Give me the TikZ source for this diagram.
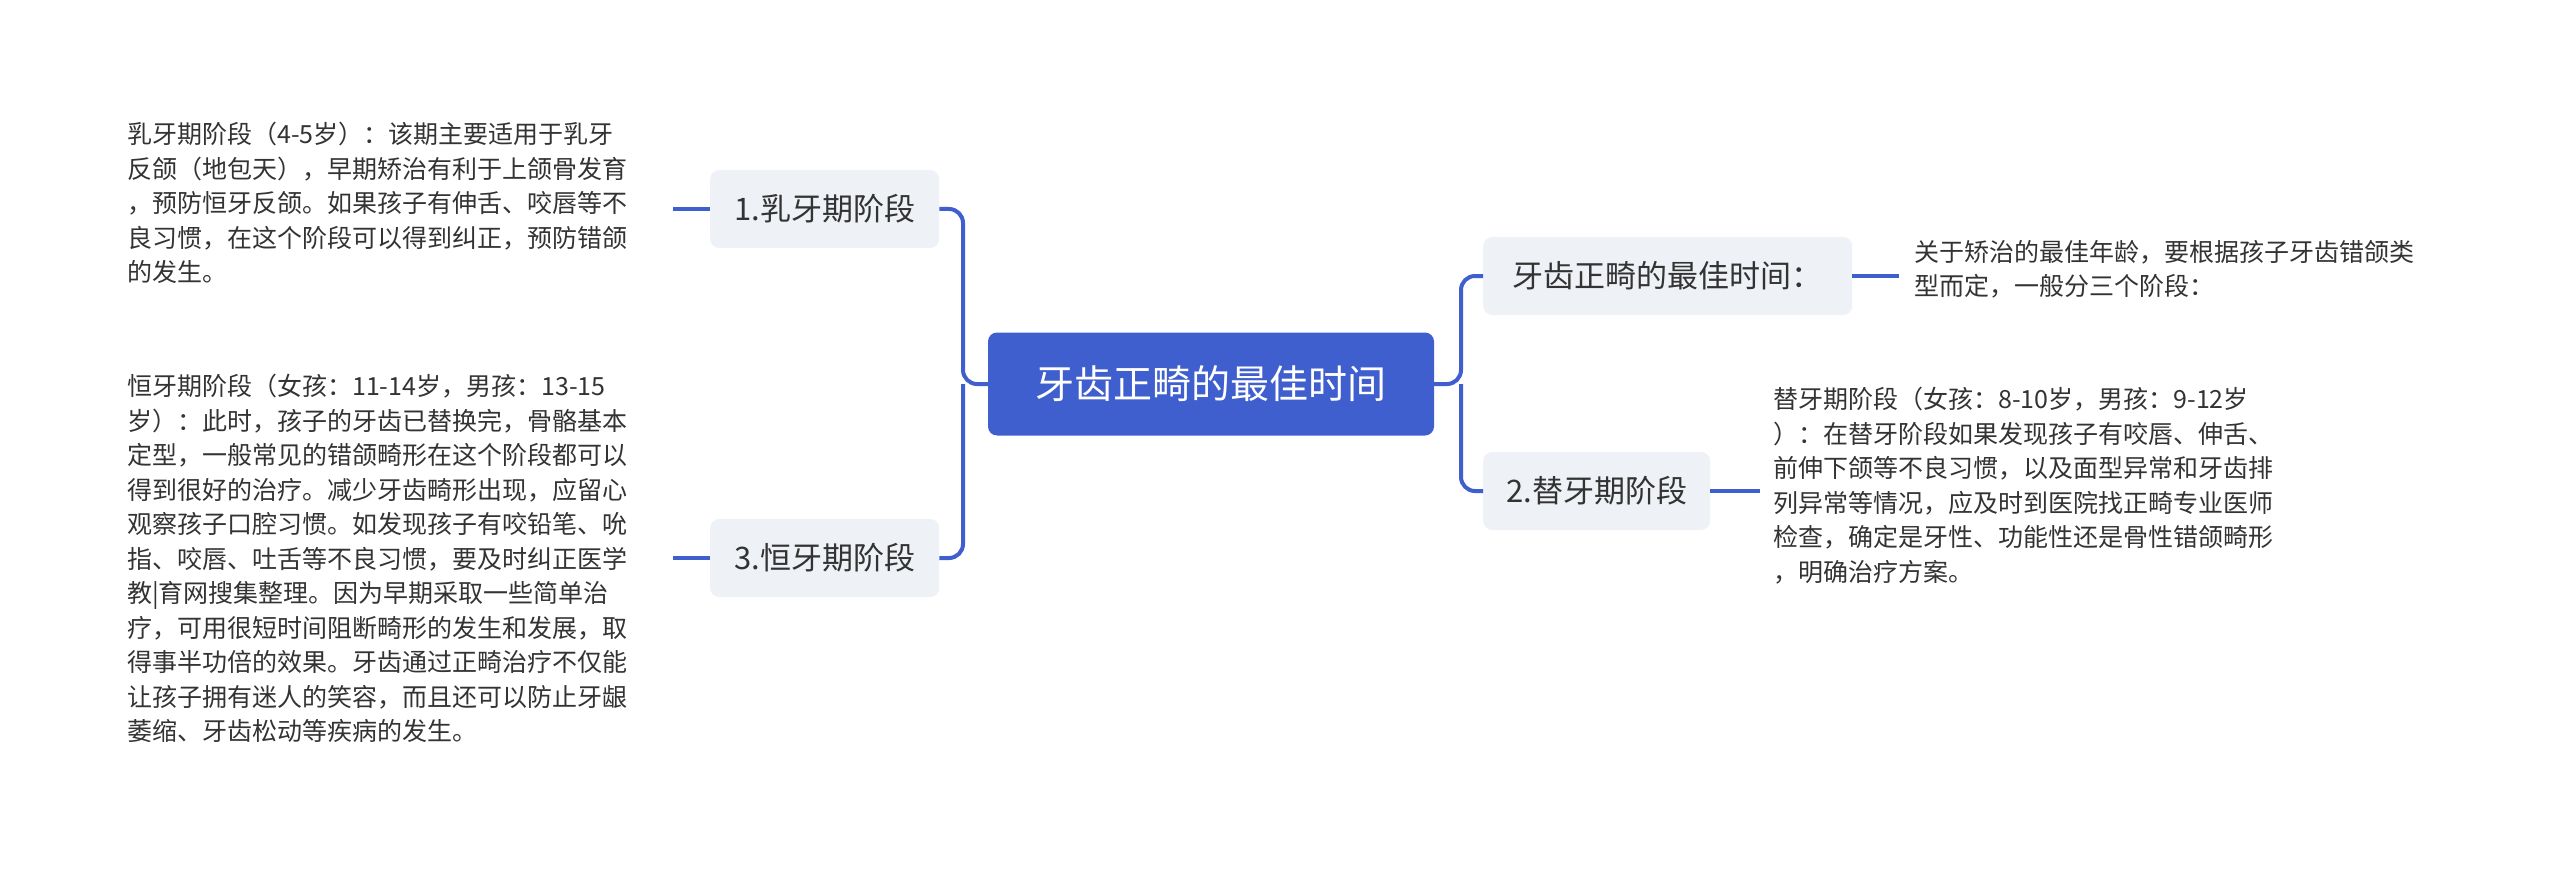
\documentclass[tikz,border=0pt]{standalone}
\usepackage{fontspec}
\setmainfont{Noto Sans CJK SC}
\definecolor{lineblue}{HTML}{3F5FCF}
\definecolor{boxgray}{HTML}{EEF1F5}
\definecolor{txt}{HTML}{333333}
\begin{document}
\begin{tikzpicture}[x=1pt,y=-1pt,
  sub/.style={fill=boxgray,rounded corners=9pt,minimum height=78pt,inner xsep=16pt,text=txt,font=\fontsize{31}{36}\selectfont,anchor=west},
  desc/.style={anchor=north west,align=left,inner sep=0pt,text=txt,font=\fontsize{25}{34.5}\selectfont},
  conn/.style={draw=lineblue,line width=4pt,rounded corners=14pt}]
\useasboundingbox (0,0) rectangle (2560,869);
\node[fill=lineblue,rounded corners=9pt,minimum width=446pt,minimum height=103pt,text=white,font=\fontsize{39}{44}\selectfont] (c) at (1211,384) {牙齿正畸的最佳时间};
\node[sub,minimum width=229pt] (n1) at (710,209) {1.乳牙期阶段};
\node[sub,minimum width=229pt] (n3) at (710,558) {3.恒牙期阶段};
\node[sub,minimum width=369pt] (r1) at (1483,276) {牙齿正畸的最佳时间：};
\node[sub,minimum width=227pt] (r2) at (1483,491) {2.替牙期阶段};
\draw[conn] (c.west) -- (963,384) |- (n1.east);
\draw[conn] (963,384) |- (n3.east);
\draw[conn] (c.east) -- (1461,384) |- (r1.west);
\draw[conn] (1461,384) |- (r2.west);
\node[desc] (t1) at (127,122) {乳牙期阶段（4-5岁）：该期主要适用于乳牙\\反颌（地包天），早期矫治有利于上颌骨发育\\，预防恒牙反颌。如果孩子有伸舌、咬唇等不\\良习惯，在这个阶段可以得到纠正，预防错颌\\的发生。};
\node[desc] (t3) at (127,374) {恒牙期阶段（女孩：11-14岁，男孩：13-15\\岁）：此时，孩子的牙齿已替换完，骨骼基本\\定型，一般常见的错颌畸形在这个阶段都可以\\得到很好的治疗。减少牙齿畸形出现，应留心\\观察孩子口腔习惯。如发现孩子有咬铅笔、吮\\指、咬唇、吐舌等不良习惯，要及时纠正医学\\教|育网搜集整理。因为早期采取一些简单治\\疗，可用很短时间阻断畸形的发生和发展，取\\得事半功倍的效果。牙齿通过正畸治疗不仅能\\让孩子拥有迷人的笑容，而且还可以防止牙龈\\萎缩、牙齿松动等疾病的发生。};
\node[desc] (tr1) at (1914,240) {关于矫治的最佳年龄，要根据孩子牙齿错颌类\\型而定，一般分三个阶段：};
\node[desc] (tr2) at (1773,387) {替牙期阶段（女孩：8-10岁，男孩：9-12岁\\）：在替牙阶段如果发现孩子有咬唇、伸舌、\\前伸下颌等不良习惯，以及面型异常和牙齿排\\列异常等情况，应及时到医院找正畸专业医师\\检查，确定是牙性、功能性还是骨性错颌畸形\\，明确治疗方案。};
\coordinate (a1) at (673,209);
\coordinate (a3) at (673,558);
\coordinate (b1) at (1899,276);
\coordinate (b2) at (1760,491);
\draw[conn] (n1.west) -- (a1);
\draw[conn] (n3.west) -- (a3);
\draw[conn] (r1.east) -- (b1);
\draw[conn] (r2.east) -- (b2);
\end{tikzpicture}
\end{document}
